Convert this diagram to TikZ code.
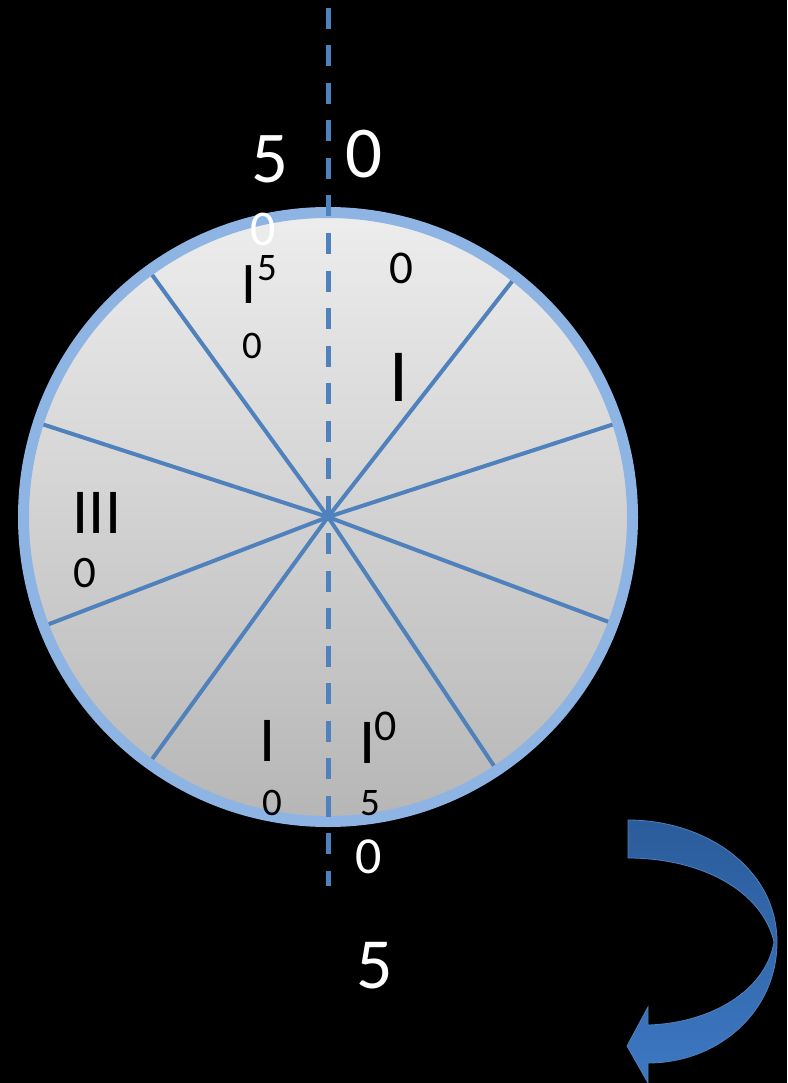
\documentclass[tikz,border=0pt]{standalone}
\usepackage{fontspec}
\setmainfont{Carlito}
\definecolor{rimblue}{HTML}{8DB4E3}
\definecolor{spokeblue}{HTML}{4F81BD}
\definecolor{arrowdark}{HTML}{2B5C9B}
\definecolor{arrowlight}{HTML}{3D78C2}
\definecolor{disctop}{HTML}{EDEDED}
\definecolor{discbot}{HTML}{B6B6B6}
\tikzset{
  lbl/.style={anchor=base, inner sep=0pt, text=#1},
  spoke/.style={draw=spokeblue, line width=4pt},
  axis/.style={draw=spokeblue, line width=5pt, dash pattern=on 21pt off 16.5pt},
}
\newcommand{\fs}[1]{\fontsize{#1}{#1}\selectfont}
\begin{document}
\begin{tikzpicture}[x=1pt,y=-1pt]
\fill[black] (0,0) rectangle (787,1083);
\useasboundingbox (0,0) rectangle (787,1083);
\coordinate (c) at (328,517);
% disc
\shade[top color=disctop, bottom color=discbot] (c) circle (305);
% spokes
\foreach \a in {52,126,162,18,201,-20.5,234,-56.3}
  \draw[spoke] (c) -- ++(-\a:302);
\draw[draw=rimblue, line width=11pt] (c) circle (304.5);
% axis
\coordinate (atop) at (328,8);
\coordinate (abot) at (328,886);
\draw[axis] (atop) -- (abot);
% labels
\node[lbl=white] (t5) at (270,183) {\fs{73}5};
\node[lbl=white] (t0) at (364,178) {\fs{73}0};
\node[lbl=white] (t0b) at (263,246) {\fs{50}0};
\node[lbl=black] (i1) at (248.5,303) {\fs{59}I};
\node[lbl=black] (s5) at (267,280) {\fs{39}5};
\node[lbl=black] (s0) at (252,358) {\fs{39}0};
\node[lbl=black] (r0) at (401,283) {\fs{47}0};
\node[lbl=black] (i2) at (398.5,401) {\fs{75}I};
\node[lbl=black] (i3) at (97,533) {\fs{64}III};
\node[lbl=black] (l0) at (85,587) {\fs{45}0};
\node[lbl=black] (i4) at (268,761) {\fs{64}I};
\node[lbl=black] (b0) at (272,815) {\fs{39}0};
\node[lbl=black] (i5) at (367.5,763) {\fs{64}I};
\node[lbl=black] (bs0) at (386,740) {\fs{44}0};
\node[lbl=black] (b5) at (370,815) {\fs{39}5};
\node[lbl=white] (w0) at (369,873) {\fs{52}0};
\node[lbl=white] (w5) at (375,988) {\fs{72}5};
% curved arrow
\shade[top color=arrowdark, bottom color=arrowlight, draw=spokeblue, line width=0.8pt]
  (628,820) .. controls (705,820) and (777,868) .. (777,942)
  .. controls (777,1012) and (718,1063) .. (648,1063)
  -- (648,1083) -- (627,1046) -- (648,1007) -- (648,1025)
  .. controls (712,1023) and (766,990) .. (774,942)
  .. controls (762,890) and (700,858) .. (628,858) -- cycle;
\end{tikzpicture}
\end{document}
